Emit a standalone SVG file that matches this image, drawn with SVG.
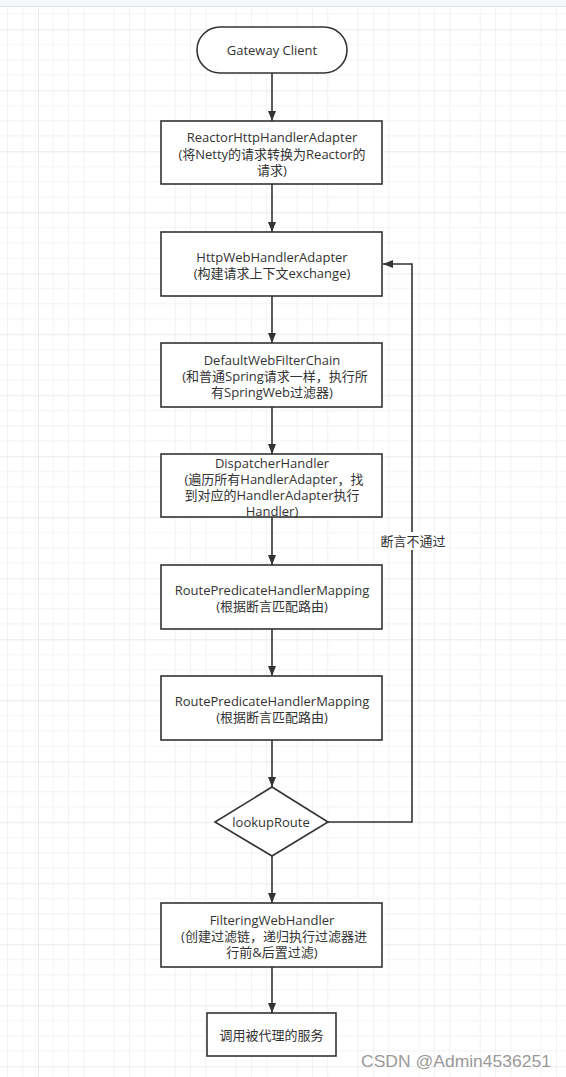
<svg xmlns="http://www.w3.org/2000/svg" width="566" height="1077" viewBox="0 0 566 1077">
<defs>
<pattern id="grid" patternUnits="userSpaceOnUse" x="38" y="29.3" width="61" height="61">
<path d="M15.25 0V61M30.5 0V61M45.75 0V61M0 15.25H61M0 30.5H61M0 45.75H61" stroke="#f2f2f2" stroke-width="1" fill="none"/>
<path d="M0 0V61M0 0H61" stroke="#ebebeb" stroke-width="2" fill="none"/>
</pattern>
<marker id="arr" viewBox="0 0 10 8" refX="10" refY="4" markerWidth="10" markerHeight="8" markerUnits="userSpaceOnUse" orient="auto">
<path d="M0 0L10 4L0 8Z" fill="#333"/>
</marker>
<style>
.n{fill:#fff;stroke:#333;stroke-width:1.6}
.t{font-family:"Open Sans","Noto Sans CJK SC",sans-serif;font-size:13px;fill:#333;text-anchor:middle;dominant-baseline:central}
.c{fill:none;stroke:#333;stroke-width:1.6}
</style>
</defs>
<rect width="566" height="1077" fill="#fff"/>
<rect y="6" width="566" height="1071" fill="url(#grid)"/>
<rect width="566" height="6" fill="#f5f7fa"/>
<line x1="0" y1="6.5" x2="566" y2="6.5" stroke="#dde3ea" stroke-width="1"/>

<g id="connectors">
<line class="c" x1="272" y1="73" x2="272" y2="121" marker-end="url(#arr)"/>
<line class="c" x1="272" y1="184" x2="272" y2="232" marker-end="url(#arr)"/>
<line class="c" x1="272" y1="296" x2="272" y2="343" marker-end="url(#arr)"/>
<line class="c" x1="272" y1="407" x2="272" y2="454" marker-end="url(#arr)"/>
<line class="c" x1="272" y1="517" x2="272" y2="565" marker-end="url(#arr)"/>
<line class="c" x1="272" y1="629" x2="272" y2="676" marker-end="url(#arr)"/>
<line class="c" x1="272" y1="740" x2="272" y2="787" marker-end="url(#arr)"/>
<line class="c" x1="272" y1="856" x2="272" y2="903" marker-end="url(#arr)"/>
<line class="c" x1="272" y1="967" x2="272" y2="1013" marker-end="url(#arr)"/>
<polyline class="c" points="328,822 412,822 412,264 383,264" marker-end="url(#arr)"/>
<rect x="379" y="532" width="68" height="18" fill="#fff"/>
<text class="t" x="413" y="541">断言不通过</text>
</g>

<g id="gateway-client">
<rect class="n" x="197" y="27" width="150" height="46" rx="23" ry="23"/>
<text class="t" x="272" y="50">Gateway Client</text>
</g>
<g id="reactor-adapter">
<rect class="n" x="161" y="121" width="221" height="63"/>
<text class="t" x="272" y="137">ReactorHttpHandlerAdapter</text>
<text class="t" x="272" y="153.5">(将Netty的请求转换为Reactor的</text>
<text class="t" x="272" y="170">请求)</text>
</g>
<g id="http-web-adapter">
<rect class="n" x="161" y="232" width="221" height="64"/>
<text class="t" x="272" y="257">HttpWebHandlerAdapter</text>
<text class="t" x="272" y="273">(构建请求上下文exchange)</text>
</g>
<g id="default-filter-chain">
<rect class="n" x="161" y="343" width="221" height="64"/>
<text class="t" x="272" y="359.5">DefaultWebFilterChain</text>
<text class="t" x="275" y="375.5">(和普通Spring请求一样，执行所</text>
<text class="t" x="272" y="391.5">有SpringWeb过滤器)</text>
</g>
<g id="dispatcher-handler">
<rect class="n" x="161" y="454" width="221" height="63"/>
<text class="t" x="272" y="462.5">DispatcherHandler</text>
<text class="t" x="274" y="478.5">(遍历所有HandlerAdapter，找</text>
<text class="t" x="272" y="494.5">到对应的HandlerAdapter执行</text>
<text class="t" x="272" y="510.5">Handler)</text>
</g>
<g id="route-mapping-1">
<rect class="n" x="161" y="565" width="221" height="64"/>
<text class="t" x="272" y="589.5">RoutePredicateHandlerMapping</text>
<text class="t" x="272" y="605.5">(根据断言匹配路由)</text>
</g>
<g id="route-mapping-2">
<rect class="n" x="161" y="676" width="221" height="64"/>
<text class="t" x="272" y="700.5">RoutePredicateHandlerMapping</text>
<text class="t" x="272" y="716.5">(根据断言匹配路由)</text>
</g>
<g id="lookup-route">
<polygon class="n" points="272,787 328,822 272,856 215,822"/>
<text class="t" x="271" y="822">lookupRoute</text>
</g>
<g id="filtering-handler">
<rect class="n" x="161" y="903" width="221" height="64"/>
<text class="t" x="272" y="919.5">FilteringWebHandler</text>
<text class="t" x="274" y="935.5">(创建过滤链，递归执行过滤器进</text>
<text class="t" x="272" y="951.5">行前&amp;后置过滤)</text>
</g>
<g id="invoke-service">
<rect class="n" x="207" y="1013" width="129" height="43"/>
<text class="t" x="271.5" y="1035">调用被代理的服务</text>
</g>
<text x="361" y="1066.5" font-family="Liberation Sans, Arial, sans-serif" font-size="17" fill="#9a9a9a" textLength="190" lengthAdjust="spacingAndGlyphs">CSDN @Admin4536251</text>
</svg>
